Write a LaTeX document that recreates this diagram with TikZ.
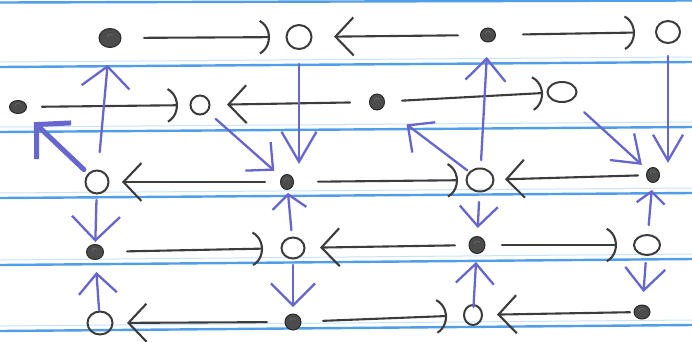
\documentclass[tikz,border=0pt]{standalone}
\usetikzlibrary{arrows.meta,shapes.geometric}
\definecolor{inkk}{RGB}{60,60,60}
\definecolor{inkb}{RGB}{102,102,206}
\definecolor{paperline}{RGB}{80,158,232}
\tikzset{
  fnode/.style={ellipse, inner sep=0pt, fill=inkk!92, draw=inkk!70!black, line width=1pt,
    path picture={\draw[gray!60!inkk, line width=0.8pt] (path picture bounding box.center) ++(-2.5pt,1pt) arc (200:20:2.6pt and 2pt);}},
  onode/.style={ellipse, inner sep=0pt, draw=inkk, line width=2pt},
  blkr/.style={draw=inkk, line width=2.1pt, line cap=round, -{Arc Barb[length=17pt,width=38pt,arc=130]}},
  blkl/.style={draw=inkk, line width=2.1pt, line cap=round, -{Straight Barb[length=18pt,width=38pt]}},
  blu/.style={draw=inkb, line width=2.3pt, line cap=round, -{Straight Barb[length=20pt,width=38pt]}},
  ruled/.style={draw=paperline, line width=2.4pt},
  ruledfaint/.style={draw=paperline!30, line width=1pt}
}
\begin{document}
\begin{tikzpicture}[x=1pt,y=-1pt]
\fill[white] (0,0) rectangle (692,341);
\useasboundingbox (0,0) rectangle (692,341);
% notebook lines
\foreach \yl/\yr in {2.5/0.5, 67/62, 132/127, 198/193, 265/259, 331/325}{
  \draw[ruledfaint] (0,\yl-5) -- (692,\yr-5);
  \draw[ruled] (0,\yl) -- (692,\yr);
}
% row 1
\node[fnode, minimum width=22pt, minimum height=19pt] (a1) at (110,38) {};
\node[onode, minimum width=25pt, minimum height=24pt] (b1) at (299,37) {};
\node[fnode, minimum width=15pt, minimum height=14pt] (c1) at (488,35) {};
\node[onode, minimum width=24pt, minimum height=22pt] (d1) at (668,32) {};
% row 2
\node[fnode, minimum width=17pt, minimum height=13pt] (a2) at (18,107) {};
\node[onode, minimum width=19pt, minimum height=19pt] (b2) at (200,105) {};
\node[fnode, minimum width=15pt, minimum height=16pt] (c2) at (377,102) {};
\node[onode, minimum width=29pt, minimum height=20pt] (d2) at (562,92) {};
% row 3
\node[onode, minimum width=23pt, minimum height=23pt] (a3) at (97,182) {};
\node[fnode, minimum width=13pt, minimum height=15pt] (b3) at (287,182) {};
\node[onode, minimum width=27pt, minimum height=23pt] (c3) at (480,180) {};
\node[fnode, minimum width=13pt, minimum height=15pt] (d3) at (653,175) {};
% row 4
\node[fnode, minimum width=17pt, minimum height=15pt] (a4) at (95,252) {};
\node[onode, minimum width=23pt, minimum height=21pt] (b4) at (293,248) {};
\node[fnode, minimum width=16pt, minimum height=17pt] (c4) at (477,245) {};
\node[onode, minimum width=26pt, minimum height=20pt] (d4) at (647,245) {};
% row 5
\node[onode, minimum width=25pt, minimum height=23pt] (a5) at (100,323) {};
\node[fnode, minimum width=16pt, minimum height=16pt] (b5) at (293,322) {};
\node[onode, minimum width=18pt, minimum height=20pt] (c5) at (473,315) {};
\node[fnode, minimum width=16pt, minimum height=14pt] (d5) at (642,312) {};
% black horizontal arrows
\draw[blkr, shorten <=34pt, shorten >=29pt] (a1.center) -- (b1.center);
\draw[blkl, shorten <=30pt, shorten >=35pt] (c1.center) -- (b1.center);
\draw[blkr, shorten <=35pt, shorten >=33pt] (c1.center) -- (d1.center);
\draw[blkr, shorten <=24pt, shorten >=22pt] (a2.center) -- (b2.center);
\draw[blkl, shorten <=27pt, shorten >=27pt] (c2.center) -- (b2.center);
\draw[blkr, shorten <=25pt, shorten >=19pt] (c2.center) -- (d2.center);
\draw[blkl, shorten <=22pt, shorten >=25pt] (b3.center) -- (a3.center);
\draw[blkr, shorten <=31pt, shorten >=22pt] (b3.center) -- (c3.center);
\draw[blkl, shorten <=15pt, shorten >=25pt] (d3.center) -- (c3.center);
\draw[blkr, shorten <=32pt, shorten >=30pt] (a4.center) -- (b4.center);
\draw[blkl, shorten <=22pt, shorten >=27pt] (c4.center) -- (b4.center);
\draw[blkr, shorten <=25pt, shorten >=30pt] (c4.center) -- (d4.center);
\draw[blkl, shorten <=26pt, shorten >=27pt] (b5.center) -- (a5.center);
\draw[blkr, shorten <=30pt, shorten >=26pt] (b5.center) -- (c5.center);
\draw[blkl, shorten <=12pt, shorten >=24pt] (d5.center) -- (c5.center);
% blue arrows
\draw[blu, shorten <=30pt, shorten >=27pt, -{Straight Barb[length=21pt,width=48pt]}] (a3.center) -- (a1.center);
\draw[blu, line width=5pt, shorten <=18pt, shorten >=22pt, -{Straight Barb[length=24pt,width=50pt]}] (a3.center) -- (a2.center);
\draw[blu, shorten <=14pt, shorten >=10pt, -{Straight Barb[length=30pt,width=35pt]}] (b1.south) -- (b1.south |- b3.north);
\draw[blu, shorten <=21pt, shorten >=17pt] (b2.center) -- (b3.center);
\draw[blu, shorten <=20pt, shorten >=22pt, -{Straight Barb[length=22pt,width=40pt]}] (c3.center) -- (c1.center);
\draw[blu, shorten <=16pt, shorten >=37pt] (c3.center) -- (c2.center);
\draw[blu, shorten <=30pt, shorten >=15pt, -{Straight Barb[length=25pt,width=36pt]}] (d2.center) -- (d3.center);
\draw[blu, shorten <=12pt, shorten >=4pt, -{Straight Barb[length=26pt,width=30pt]}] (d1.south) -- (d1.south |- d3.north);
\draw[blu, shorten <=18pt, shorten >=10pt, -{Straight Barb[length=24pt,width=48pt]}] (a3.center) -- (a4.center);
\draw[blu, shorten <=13pt, shorten >=20pt] (a5.center) -- (a4.center);
\draw[blu, shorten <=18pt, shorten >=11pt, -{Straight Barb[length=14pt,width=34pt]}] (b4.center) -- (b3.center);
\draw[blu, shorten <=17pt, shorten >=15pt, -{Straight Barb[length=22pt,width=44pt]}] (b4.center) -- (b5.center);
\draw[blu, shorten <=22pt, shorten >=17pt] (c3.center) -- (c4.center);
\draw[blu, shorten <=8pt, shorten >=17pt] (c5.center) -- (c4.center);
\draw[blu, shorten <=20pt, shorten >=15pt, -{Straight Barb[length=12pt,width=28pt]}] (d4.center) -- (d3.center);
\draw[blu, shorten <=18pt, shorten >=20pt, -{Straight Barb[length=22pt,width=40pt]}] (d4.center) -- (d5.center);
\end{tikzpicture}
\end{document}
